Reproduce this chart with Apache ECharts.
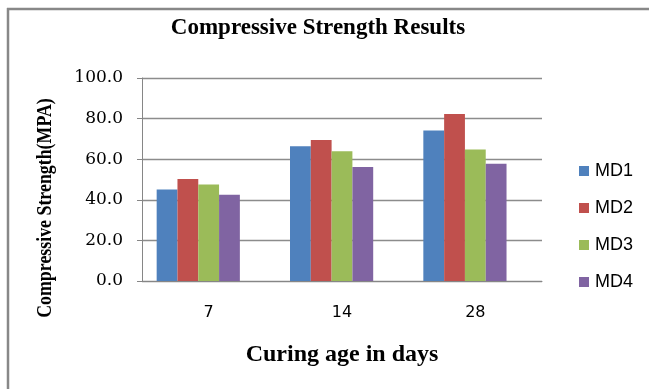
<!DOCTYPE html>
<html><head><meta charset="utf-8">
<script src="https://cdn.jsdelivr.net/npm/echarts@6/dist/echarts.min.js"></script>
<style>html,body{margin:0;padding:0;background:#fff}#c{width:649px;height:389px}</style>
</head><body><div id="c"></div>
<script>
const categories = ['7', '14', '28'];
const md1 = [45.1, 66.4, 74.1];
const md2 = [50.2, 69.5, 82.3];
const md3 = [47.5, 63.9, 64.8];
const md4 = [42.5, 56.2, 57.7];
const seriesNames = ['MD1', 'MD2', 'MD3', 'MD4'];
const colors = ['#4F81BD', '#C0504D', '#9BBB59', '#8064A2'];
const yTicks = [0, 20, 40, 60, 80, 100];

const chart = echarts.init(document.getElementById('c'), null, {renderer: 'canvas'});
const values = [md1, md2, md3, md4];
const series = values.map((v, i) => ({
  name: seriesNames[i], type: 'bar', data: v, barGap: '0%', barCategoryGap: '22%',
  itemStyle: {color: colors[i]}
}));
// empty spacer series (as in the source spreadsheet) which shifts bar groups left
series.push({name: 'spacer', type: 'bar', data: [null, null, null], barGap: '0%', barCategoryGap: '22%', silent: true});

chart.setOption({
  animation: false,
  backgroundColor: '#fff',
  title: {text: 'Compressive Strength Results', left: 313, top: 12, textAlign: 'center',
    textStyle: {fontFamily: 'Liberation Serif', fontWeight: 'bold', fontSize: 23, color: '#000'}},
  legend: {data: seriesNames, orient: 'vertical', left: 574, top: 157, itemWidth: 10, itemHeight: 10,
    itemGap: 19, icon: 'rect',
    textStyle: {fontFamily: 'Liberation Sans', fontSize: 18, color: '#000', padding: [0, 0, 0, 1]}},
  grid: {left: 142, right: 107, top: 78, bottom: 108, containLabel: false},
  xAxis: {type: 'category', data: categories,
    name: 'Curing age in days', nameLocation: 'middle', nameGap: 62,
    nameTextStyle: {fontFamily: 'Liberation Serif', fontWeight: 'bold', fontSize: 24, color: '#000'},
    axisLine: {lineStyle: {color: '#868686', width: 1}},
    axisTick: {show: false},
    axisLabel: {fontFamily: 'DejaVu Sans', fontSize: 16, color: '#000', margin: 24}},
  yAxis: {type: 'value', min: 0, max: 100, interval: 20,
    axisLine: {show: true, lineStyle: {color: '#868686', width: 1}},
    axisTick: {show: true, length: 5, lineStyle: {color: '#868686'}},
    axisLabel: {fontFamily: 'DejaVu Serif', fontSize: 17, color: '#000', margin: 19,
      formatter: v => yTicks.includes(v) ? v.toFixed(1) : ''},
    splitLine: {lineStyle: {color: '#8c8c8c', width: 1.3}}},
  graphic: [
    {type: 'line', shape: {x1: 7, y1: 9, x2: 649, y2: 9}, style: {stroke: '#888', lineWidth: 2.5}, z: 100},
    {type: 'line', shape: {x1: 8, y1: 8, x2: 8, y2: 389}, style: {stroke: '#888', lineWidth: 2.5}, z: 100},
    {type: 'text', x: 46, y: 208, rotation: Math.PI / 2, scaleX: 0.85,
      style: {text: 'Compressive Strength(MPA)', fontFamily: 'Liberation Serif', fontWeight: 'bold',
        fontSize: 21, fill: '#000', textAlign: 'center', textVerticalAlign: 'middle'}}
  ],
  series: series
});
</script></body></html>
